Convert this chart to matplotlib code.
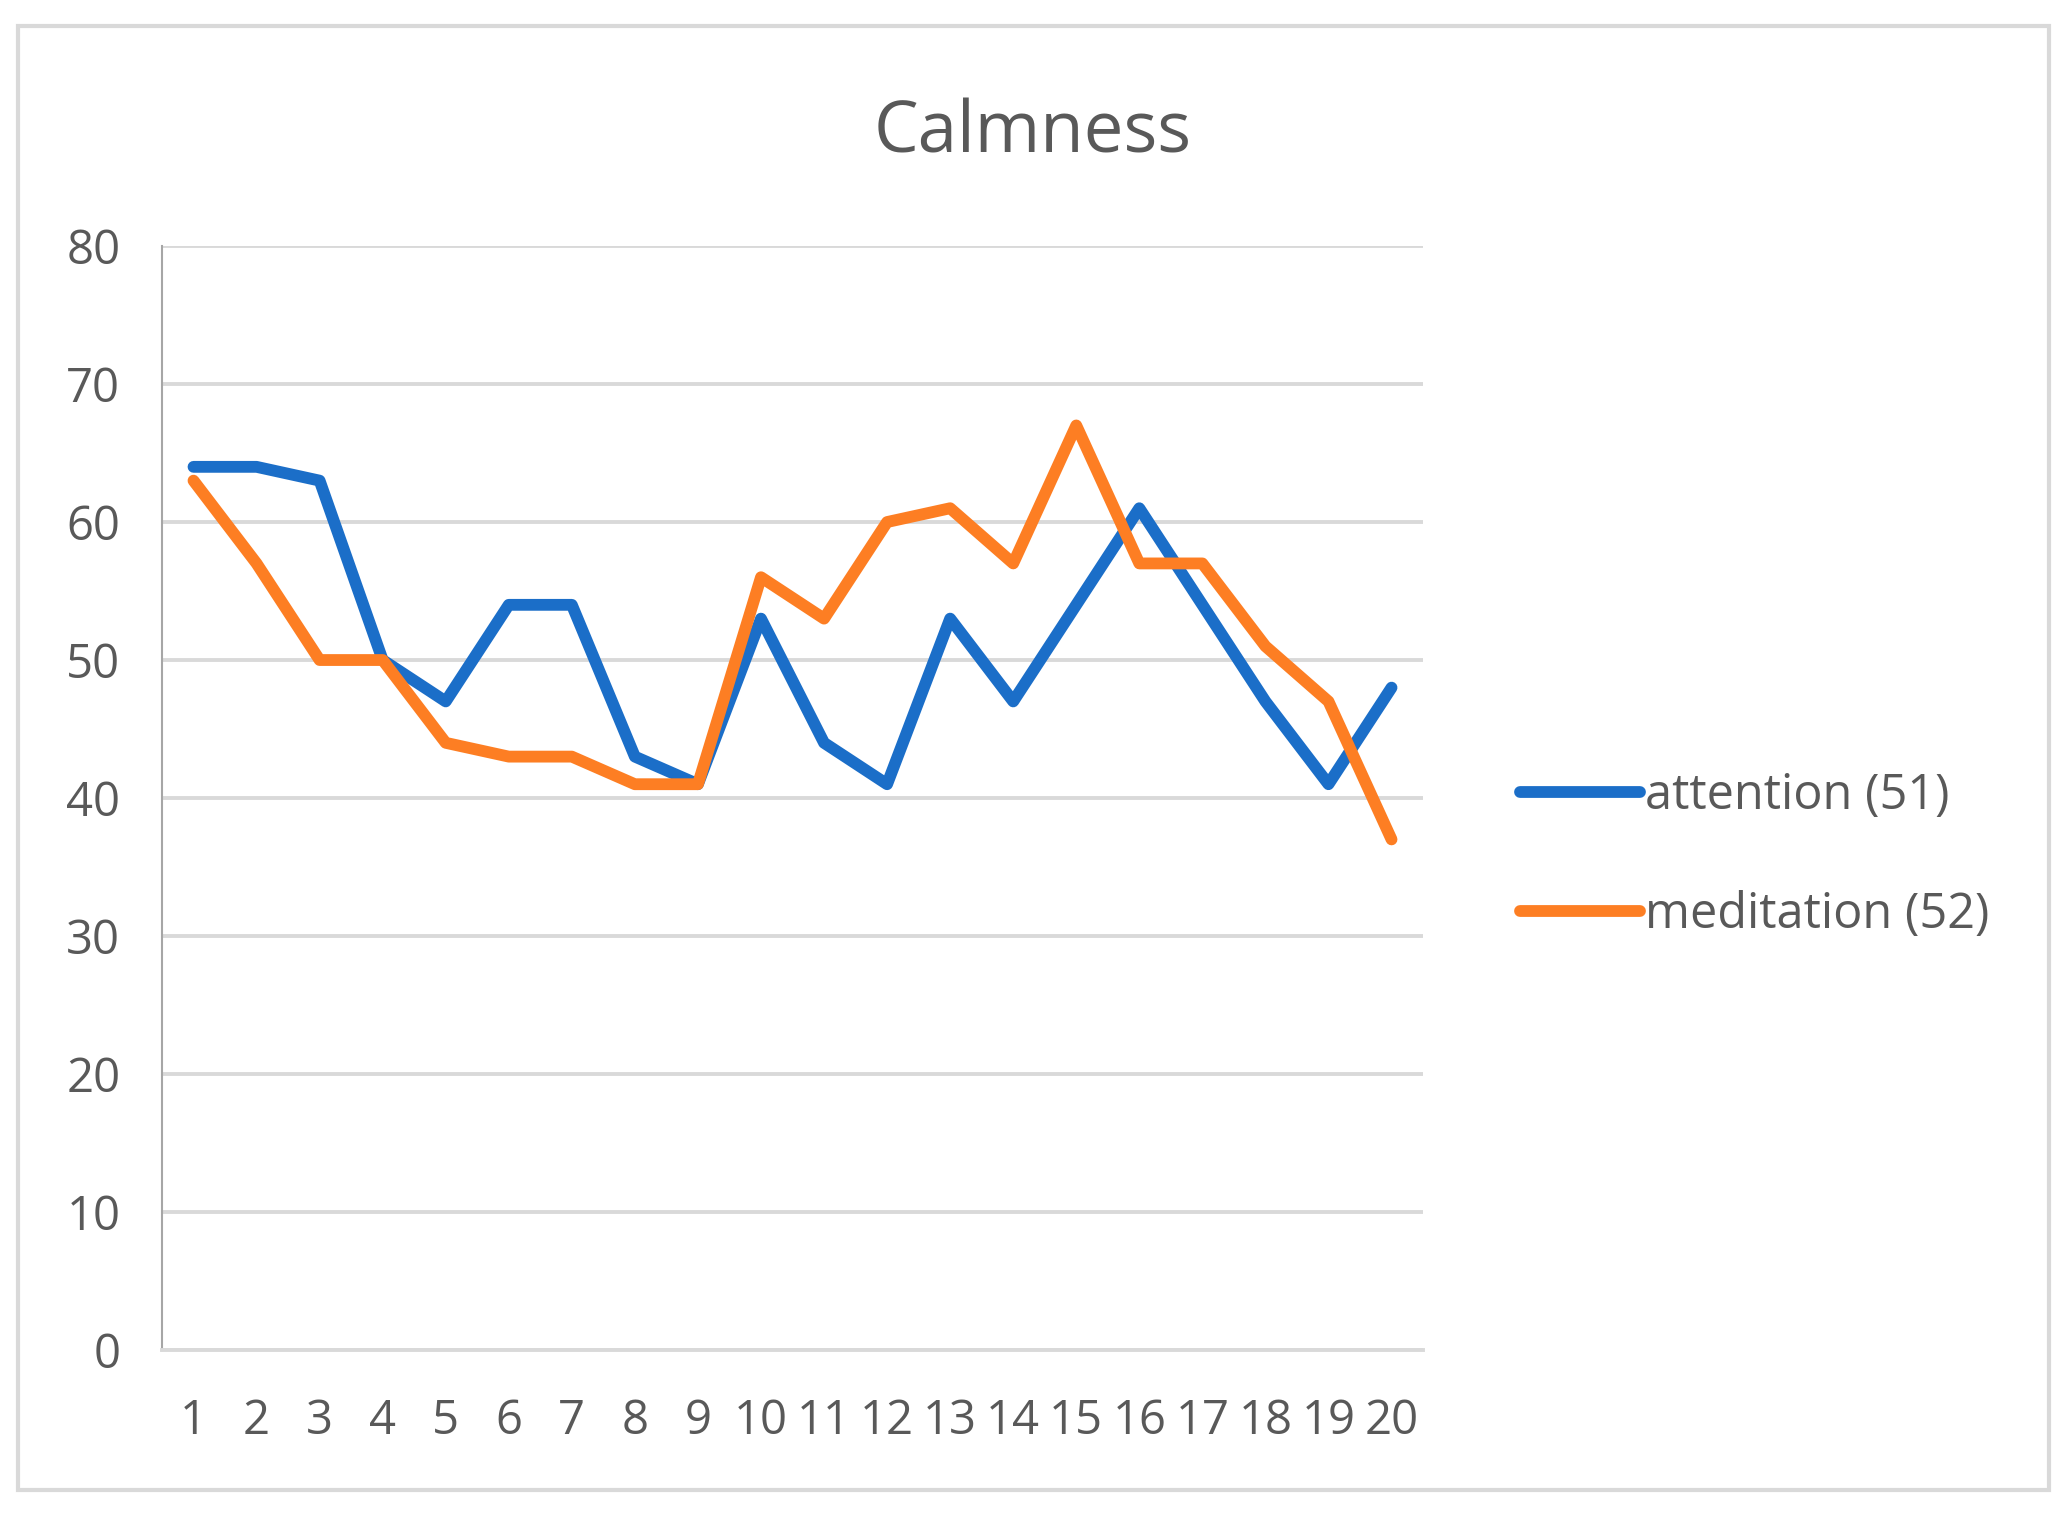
import matplotlib
matplotlib.use("Agg")
import matplotlib.pyplot as plt
from matplotlib.patches import Rectangle

plt.rcParams['font.family'] = ['Open Sans', 'DejaVu Sans']

# values
samples = list(range(1, 21))
attention = [64, 64, 63, 50, 47, 54, 54, 43, 41, 53, 44, 41, 53, 47, 54, 61, 54, 47, 41, 48]
meditation = [63, 57, 50, 50, 44, 43, 43, 41, 41, 56, 53, 60, 61, 57, 67, 57, 57, 51, 47, 37]
series_labels = ['attention (51)', 'meditation (52)']
title = 'Calmness'

BLUE = '#1b6ec8'
ORANGE = '#fd7e23'
GRID = '#d9d9d9'
TEXT = '#595959'

fig = plt.figure(figsize=(20.66, 15.17), dpi=100)
ax = fig.add_axes([0.0784, 0.1101, 0.6104, 0.7277])

ax.plot(samples, attention, color=BLUE, lw=8.5, solid_joinstyle='round',
        solid_capstyle='round', label=series_labels[0], zorder=3)
ax.plot(samples, meditation, color=ORANGE, lw=8.5, solid_joinstyle='round',
        solid_capstyle='round', label=series_labels[1], zorder=4)

ax.set_xlim(0.5, 20.5)
ax.set_ylim(0, 80)
ax.set_yticks(range(0, 81, 10))
ax.set_xticks(samples)
ax.yaxis.grid(True, color=GRID, lw=2.8)
ax.set_axisbelow(True)

for side in ['top', 'right']:
    ax.spines[side].set_visible(False)
ax.spines['left'].set_color('#a6a6a6')
ax.spines['left'].set_linewidth(1.5)
ax.spines['bottom'].set_color(GRID)
ax.spines['bottom'].set_linewidth(2.8)

ax.tick_params(axis='both', length=0, labelsize=34, labelcolor=TEXT)
ax.tick_params(axis='x', pad=34)
ax.tick_params(axis='y', pad=30)

fig.text(0.5, 0.912, title, ha='center', va='center', fontsize=51, color=TEXT)

leg = ax.legend(loc='center left', bbox_to_anchor=(0.7265, 0.436), bbox_transform=fig.transFigure,
                frameon=False, fontsize=35, handlelength=2.47, handletextpad=0.1,
                labelspacing=1.42, labelcolor=TEXT, borderaxespad=0)

fig.patches.append(Rectangle((18 / 2066, 1 - 1490 / 1517), (2049 - 18) / 2066, (1490 - 26) / 1517,
                             transform=fig.transFigure, fill=False, edgecolor=GRID, lw=3))

fig.savefig('out.png', dpi=100, facecolor='white')
